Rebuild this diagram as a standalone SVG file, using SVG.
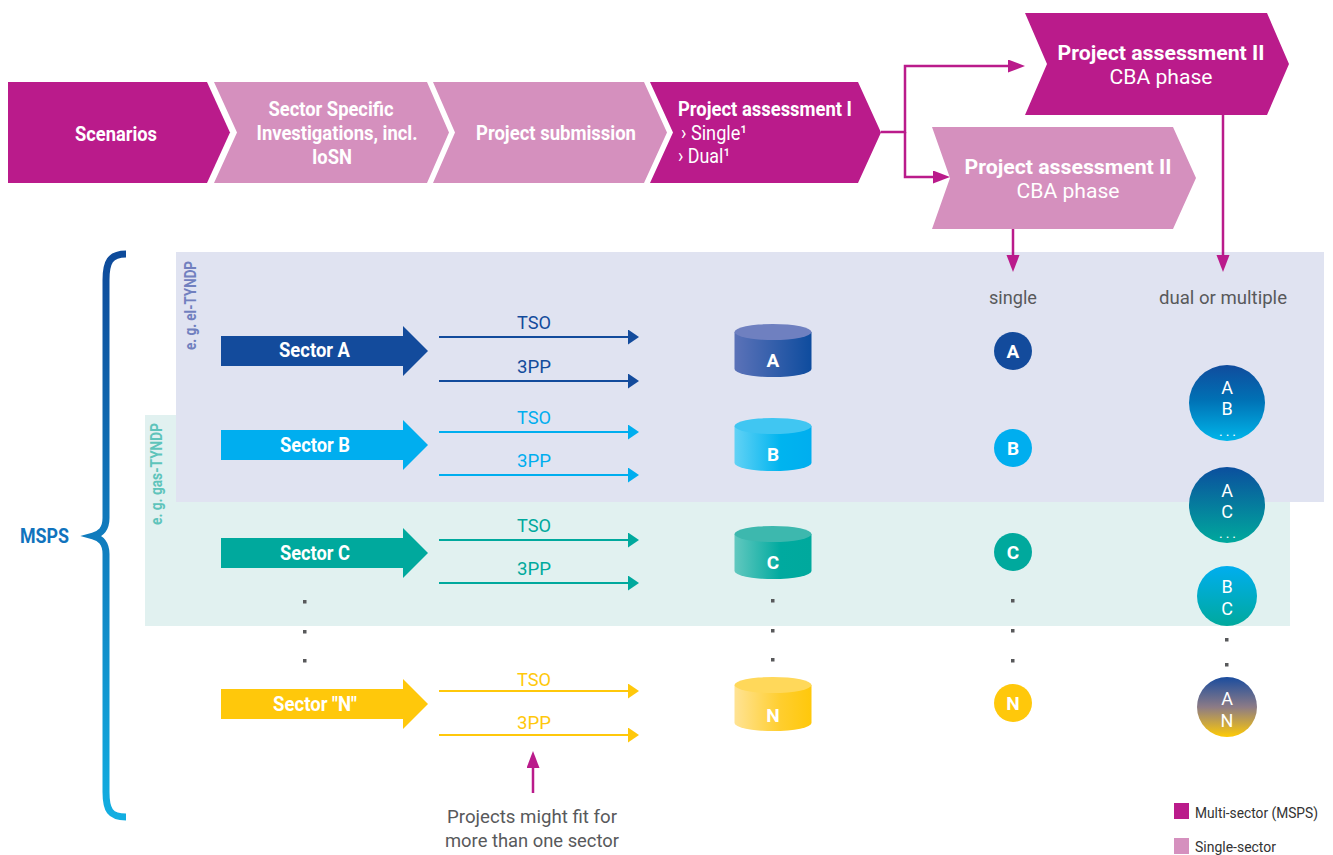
<svg xmlns="http://www.w3.org/2000/svg" width="1333" height="855" viewBox="0 0 1333 855">
<style>
text{font-family:Roboto,"Liberation Sans",sans-serif}
.b{font-weight:700}
.w{fill:#fff}
.c{text-anchor:middle}
.dk{fill:#BA1B8B}
.lt{fill:#D590BE}
.g{fill:#58595B}
.mag{stroke:#BA1B8B;stroke-width:2.5;fill:none}
.dot{fill:#58595B}
.ml{font-size:18px}
</style>
<defs>
<marker id="mM" markerUnits="userSpaceOnUse" markerWidth="18" markerHeight="14" refX="2" refY="6.5" orient="auto"><path d="M0,0 L17,6.5 L0,13 Z" fill="#BA1B8B"/></marker>
<marker id="mA" markerUnits="userSpaceOnUse" markerWidth="12" markerHeight="16" refX="1" refY="7.5" orient="auto"><path d="M0,0 L11,7.5 L0,15 Z" fill="#134B9C"/></marker>
<marker id="mB" markerUnits="userSpaceOnUse" markerWidth="12" markerHeight="16" refX="1" refY="7.5" orient="auto"><path d="M0,0 L11,7.5 L0,15 Z" fill="#00AEEF"/></marker>
<marker id="mC" markerUnits="userSpaceOnUse" markerWidth="12" markerHeight="16" refX="1" refY="7.5" orient="auto"><path d="M0,0 L11,7.5 L0,15 Z" fill="#00A99D"/></marker>
<marker id="mN" markerUnits="userSpaceOnUse" markerWidth="12" markerHeight="16" refX="1" refY="7.5" orient="auto"><path d="M0,0 L11,7.5 L0,15 Z" fill="#FFC80B"/></marker>
<linearGradient id="brace" gradientUnits="userSpaceOnUse" x1="0" y1="252" x2="0" y2="818"><stop offset="0" stop-color="#0E4A9A"/><stop offset="1" stop-color="#12AEE1"/></linearGradient>
<linearGradient id="cyA" x1="0" y1="0" x2="1" y2="0"><stop offset="0" stop-color="#5B72B8"/><stop offset="1" stop-color="#0E4C9E"/></linearGradient>
<linearGradient id="cyB" x1="0" y1="0" x2="1" y2="0"><stop offset="0" stop-color="#62D2F5"/><stop offset="0.6" stop-color="#00B4EF"/><stop offset="1" stop-color="#00AEEF"/></linearGradient>
<linearGradient id="cyC" x1="0" y1="0" x2="1" y2="0"><stop offset="0" stop-color="#62C8BF"/><stop offset="0.6" stop-color="#00AA9F"/><stop offset="1" stop-color="#00A99D"/></linearGradient>
<linearGradient id="cyN" x1="0" y1="0" x2="1" y2="0"><stop offset="0" stop-color="#FFE394"/><stop offset="0.6" stop-color="#FFCE2E"/><stop offset="1" stop-color="#FFC80B"/></linearGradient>
<linearGradient id="gAB" x1="0" y1="0" x2="0" y2="1"><stop offset="0" stop-color="#104C9D"/><stop offset="0.45" stop-color="#0070B4"/><stop offset="1" stop-color="#00B6EA"/></linearGradient>
<linearGradient id="gAC" x1="0" y1="0" x2="0" y2="1"><stop offset="0" stop-color="#0B4F9E"/><stop offset="1" stop-color="#00A99D"/></linearGradient>
<linearGradient id="gBC" x1="0" y1="0" x2="0" y2="1"><stop offset="0" stop-color="#00AEEF"/><stop offset="1" stop-color="#00A99D"/></linearGradient>
<linearGradient id="gAN" x1="0" y1="0" x2="0" y2="1"><stop offset="0" stop-color="#1A4C9E"/><stop offset="0.5" stop-color="#8C7B86"/><stop offset="1" stop-color="#FFCB05"/></linearGradient>
</defs>

<!-- background panels -->
<g id="panels">
<rect x="145" y="415" width="1145" height="211" fill="#E1F1F0"/>
<rect x="176" y="252" width="1148" height="250" fill="#E0E3F1"/>
<text class="b" transform="translate(196,350) rotate(-90)" font-size="16" textLength="89" lengthAdjust="spacingAndGlyphs" fill="#7180BF">e. g. el-TYNDP</text>
<text class="b" transform="translate(162,525) rotate(-90)" font-size="16" textLength="102" lengthAdjust="spacingAndGlyphs" fill="#5EC4BB">e. g. gas-TYNDP</text>
</g>

<!-- top process chevrons -->
<g id="scenarios">
<polygon class="dk" points="8,82 207,82 230,132.5 207,183 8,183"/>
<text class="b w c" x="116" y="141" font-size="20" textLength="82" lengthAdjust="spacingAndGlyphs">Scenarios</text>
</g>
<g id="sector-specific">
<polygon class="lt" points="214,82 427,82 449,132.5 427,183 214,183 237,132.5"/>
<text class="b w c" x="331" y="116" font-size="20" textLength="125" lengthAdjust="spacingAndGlyphs">Sector Specific</text>
<text class="b w c" x="337" y="140" font-size="20" textLength="161" lengthAdjust="spacingAndGlyphs">Investigations, incl.</text>
<text class="b w c" x="332" y="164" font-size="20" textLength="40" lengthAdjust="spacingAndGlyphs">IoSN</text>
</g>
<g id="project-submission">
<polygon class="lt" points="433,82 644,82 667,132.5 644,183 433,183 455,132.5"/>
<text class="b w c" x="556" y="140" font-size="20" textLength="160" lengthAdjust="spacingAndGlyphs">Project submission</text>
</g>
<g id="assessment-1">
<polygon class="dk" points="650,82 858,82 881,132.5 858,183 650,183 673,132.5"/>
<text class="b w" x="678" y="116" font-size="20" textLength="174" lengthAdjust="spacingAndGlyphs">Project assessment I</text>
<text class="w" x="681" y="140" font-size="20" textLength="66" lengthAdjust="spacingAndGlyphs">› Single¹</text>
<text class="w" x="678" y="163" font-size="20" textLength="52" lengthAdjust="spacingAndGlyphs">› Dual¹</text>
</g>
<g id="assessment-2-multi">
<polygon class="dk" points="1025,13 1267,13 1289,64 1267,115 1025,115 1047,64"/>
<text class="b w c" x="1161" y="60" font-size="20" textLength="207" lengthAdjust="spacingAndGlyphs">Project assessment II</text>
<text class="w c" x="1161" y="84" font-size="20" textLength="103" lengthAdjust="spacingAndGlyphs">CBA phase</text>
</g>
<g id="assessment-2-single">
<polygon class="lt" points="932,127 1173,127 1196,178 1173,229 932,229 950,178"/>
<text class="b w c" x="1068" y="174" font-size="20" textLength="207" lengthAdjust="spacingAndGlyphs">Project assessment II</text>
<text class="w c" x="1068" y="198" font-size="20" textLength="103" lengthAdjust="spacingAndGlyphs">CBA phase</text>
</g>

<!-- MSPS brace -->
<g id="msps">
<path d="M126,254 C110,254 106,262 106,280 L106,518 C106,530 100,534 93,536 C100,538 106,542 106,554 L106,792 C106,810 110,817 126,817" fill="none" stroke="url(#brace)" stroke-width="7"/>
<text class="b c" x="44.5" y="543" font-size="20" textLength="49" lengthAdjust="spacingAndGlyphs" fill="#1173BD">MSPS</text>
</g>

<!-- sector arrows -->
<g id="sector-a">
<polygon fill="#134B9C" points="221,336 403,336 403,326 428,351 403,376 403,366 221,366"/>
<text class="b w c" x="314.5" y="357" font-size="20" textLength="71" lengthAdjust="spacingAndGlyphs">Sector A</text>
</g>
<g id="sector-b">
<polygon fill="#00AEEF" points="221,430 403,430 403,420 428,445 403,470 403,460 221,460"/>
<text class="b w c" x="315" y="452" font-size="20" textLength="70" lengthAdjust="spacingAndGlyphs">Sector B</text>
</g>
<g id="sector-c">
<polygon fill="#00A99D" points="221,538 403,538 403,528 428,553 403,578 403,568 221,568"/>
<text class="b w c" x="315" y="560" font-size="20" textLength="70" lengthAdjust="spacingAndGlyphs">Sector C</text>
</g>
<g id="sector-n">
<polygon fill="#FFC80B" points="221,689 403,689 403,679 428,704 403,729 403,719 221,719"/>
<text class="b w c" x="315" y="711" font-size="20" textLength="84" lengthAdjust="spacingAndGlyphs">Sector "N"</text>
</g>

<!-- TSO / 3PP labels -->
<g id="route-labels">
<text class="c" x="534" y="329" fill="#134B9C" font-size="19" textLength="34" lengthAdjust="spacingAndGlyphs">TSO</text>
<text class="c" x="534" y="373" fill="#134B9C" font-size="19" textLength="34" lengthAdjust="spacingAndGlyphs">3PP</text>
<text class="c" x="534" y="424" fill="#00AEEF" font-size="19" textLength="34" lengthAdjust="spacingAndGlyphs">TSO</text>
<text class="c" x="534" y="467" fill="#00AEEF" font-size="19" textLength="34" lengthAdjust="spacingAndGlyphs">3PP</text>
<text class="c" x="534" y="532" fill="#00A99D" font-size="19" textLength="34" lengthAdjust="spacingAndGlyphs">TSO</text>
<text class="c" x="534" y="575" fill="#00A99D" font-size="19" textLength="34" lengthAdjust="spacingAndGlyphs">3PP</text>
<text class="c" x="534" y="686" fill="#FFC80B" font-size="19" textLength="34" lengthAdjust="spacingAndGlyphs">TSO</text>
<text class="c" x="534" y="729" fill="#FFC80B" font-size="19" textLength="34" lengthAdjust="spacingAndGlyphs">3PP</text>
</g>

<!-- cylinders -->
<g id="cyl-a">
<path d="M734.5,332 V369 A38.5,8 0 0 0 811.5,369 V332 Z" fill="url(#cyA)"/>
<ellipse cx="773" cy="332" rx="38.5" ry="8" fill="#6F80C0"/>
<text class="b w c" x="773" y="367" font-size="19">A</text>
</g>
<g id="cyl-b">
<path d="M734.5,426 V463 A38.5,8 0 0 0 811.5,463 V426 Z" fill="url(#cyB)"/>
<ellipse cx="773" cy="426" rx="38.5" ry="8" fill="#40C6F2"/>
<text class="b w c" x="773" y="461" font-size="19">B</text>
</g>
<g id="cyl-c">
<path d="M734.5,534 V571 A38.5,8 0 0 0 811.5,571 V534 Z" fill="url(#cyC)"/>
<ellipse cx="773" cy="534" rx="38.5" ry="8" fill="#3DB8AE"/>
<text class="b w c" x="773" y="569" font-size="19">C</text>
</g>
<g id="cyl-n">
<path d="M734.5,685 V723 A38.5,8 0 0 0 811.5,723 V685 Z" fill="url(#cyN)"/>
<ellipse cx="773" cy="685" rx="38.5" ry="8" fill="#FFD85A"/>
<text class="b w c" x="773" y="722" font-size="19">N</text>
</g>

<!-- column headers -->
<g id="headers">
<text class="c g" x="1013" y="304" font-size="19" textLength="48" lengthAdjust="spacingAndGlyphs">single</text>
<text class="c g" x="1223" y="304" font-size="19" textLength="128" lengthAdjust="spacingAndGlyphs">dual or multiple</text>
</g>

<!-- single circles -->
<g id="single-a"><circle cx="1013" cy="351" r="19" fill="#134B9C"/><text class="b w c" x="1013" y="358" font-size="19">A</text></g>
<g id="single-b"><circle cx="1013" cy="448" r="19" fill="#00AEEF"/><text class="b w c" x="1013" y="455" font-size="19">B</text></g>
<g id="single-c"><circle cx="1013" cy="552" r="19" fill="#00A99D"/><text class="b w c" x="1013" y="559" font-size="19">C</text></g>
<g id="single-n"><circle cx="1013" cy="703" r="19" fill="#FFC80B"/><text class="b w c" x="1013" y="710" font-size="19">N</text></g>

<!-- multi circles -->
<g id="multi-ab"><circle cx="1227" cy="403" r="38" fill="url(#gAB)"/>
<text class="w c ml" x="1227" y="394">A</text><text class="w c ml" x="1227" y="415">B</text><text class="w c" x="1229" y="436" font-size="14" letter-spacing="3">...</text></g>
<g id="multi-ac"><circle cx="1227" cy="505" r="38" fill="url(#gAC)"/>
<text class="w c ml" x="1227" y="497">A</text><text class="w c ml" x="1227" y="518">C</text><text class="w c" x="1229" y="538" font-size="14" letter-spacing="3">...</text></g>
<g id="multi-bc"><circle cx="1227" cy="596" r="30" fill="url(#gBC)"/>
<text class="w c ml" x="1227" y="593">B</text><text class="w c ml" x="1227" y="615">C</text></g>
<g id="multi-an"><circle cx="1227" cy="707" r="30" fill="url(#gAN)"/>
<text class="w c ml" x="1227" y="705">A</text><text class="w c ml" x="1227" y="727">N</text></g>

<!-- ellipsis dots -->
<g id="dots">
<rect class="dot" x="303" y="600" width="3.5" height="3.5"/><rect class="dot" x="303" y="630" width="3.5" height="3.5"/><rect class="dot" x="303" y="659" width="3.5" height="3.5"/>
<rect class="dot" x="771" y="599" width="3.5" height="3.5"/><rect class="dot" x="771" y="629" width="3.5" height="3.5"/><rect class="dot" x="771" y="658" width="3.5" height="3.5"/>
<rect class="dot" x="1011" y="599" width="3.5" height="3.5"/><rect class="dot" x="1011" y="629" width="3.5" height="3.5"/><rect class="dot" x="1011" y="659" width="3.5" height="3.5"/>
<rect class="dot" x="1225" y="638" width="3.5" height="3.5"/><rect class="dot" x="1225" y="663" width="3.5" height="3.5"/>
</g>

<!-- connectors -->
<g id="connectors">
<path class="mag" d="M881,132 H905 V66 H1010" marker-end="url(#mM)"/>
<path class="mag" d="M905,132 V177 H935" marker-end="url(#mM)"/>
<path class="mag" d="M1013,229 V257" marker-end="url(#mM)"/>
<path class="mag" d="M1223,115 V257" marker-end="url(#mM)"/>
<path class="mag" d="M533,793 V766" marker-end="url(#mM)"/>
<g stroke-width="2.2" fill="none">
<path d="M439,337 H629" stroke="#134B9C" marker-end="url(#mA)"/>
<path d="M439,381 H629" stroke="#134B9C" marker-end="url(#mA)"/>
<path d="M439,432 H629" stroke="#00AEEF" marker-end="url(#mB)"/>
<path d="M439,475 H629" stroke="#00AEEF" marker-end="url(#mB)"/>
<path d="M439,540 H629" stroke="#00A99D" marker-end="url(#mC)"/>
<path d="M439,583 H629" stroke="#00A99D" marker-end="url(#mC)"/>
<path d="M439,691 H629" stroke="#FFC80B" marker-end="url(#mN)"/>
<path d="M439,735 H629" stroke="#FFC80B" marker-end="url(#mN)"/>
</g>
</g>

<!-- note -->
<g id="note">
<text class="c g" x="532" y="823" font-size="19" textLength="170" lengthAdjust="spacingAndGlyphs">Projects might fit for</text>
<text class="c g" x="532" y="847" font-size="19" textLength="174" lengthAdjust="spacingAndGlyphs">more than one sector</text>
</g>

<!-- legend -->
<g id="legend">
<rect class="dk" x="1174" y="803" width="15" height="16"/>
<text x="1195" y="818" font-size="15" fill="#333" textLength="123" lengthAdjust="spacingAndGlyphs">Multi-sector (MSPS)</text>
<rect class="lt" x="1174" y="838" width="15" height="16"/>
<text x="1195" y="852" font-size="15" fill="#333" textLength="81" lengthAdjust="spacingAndGlyphs">Single-sector</text>
</g>
</svg>
